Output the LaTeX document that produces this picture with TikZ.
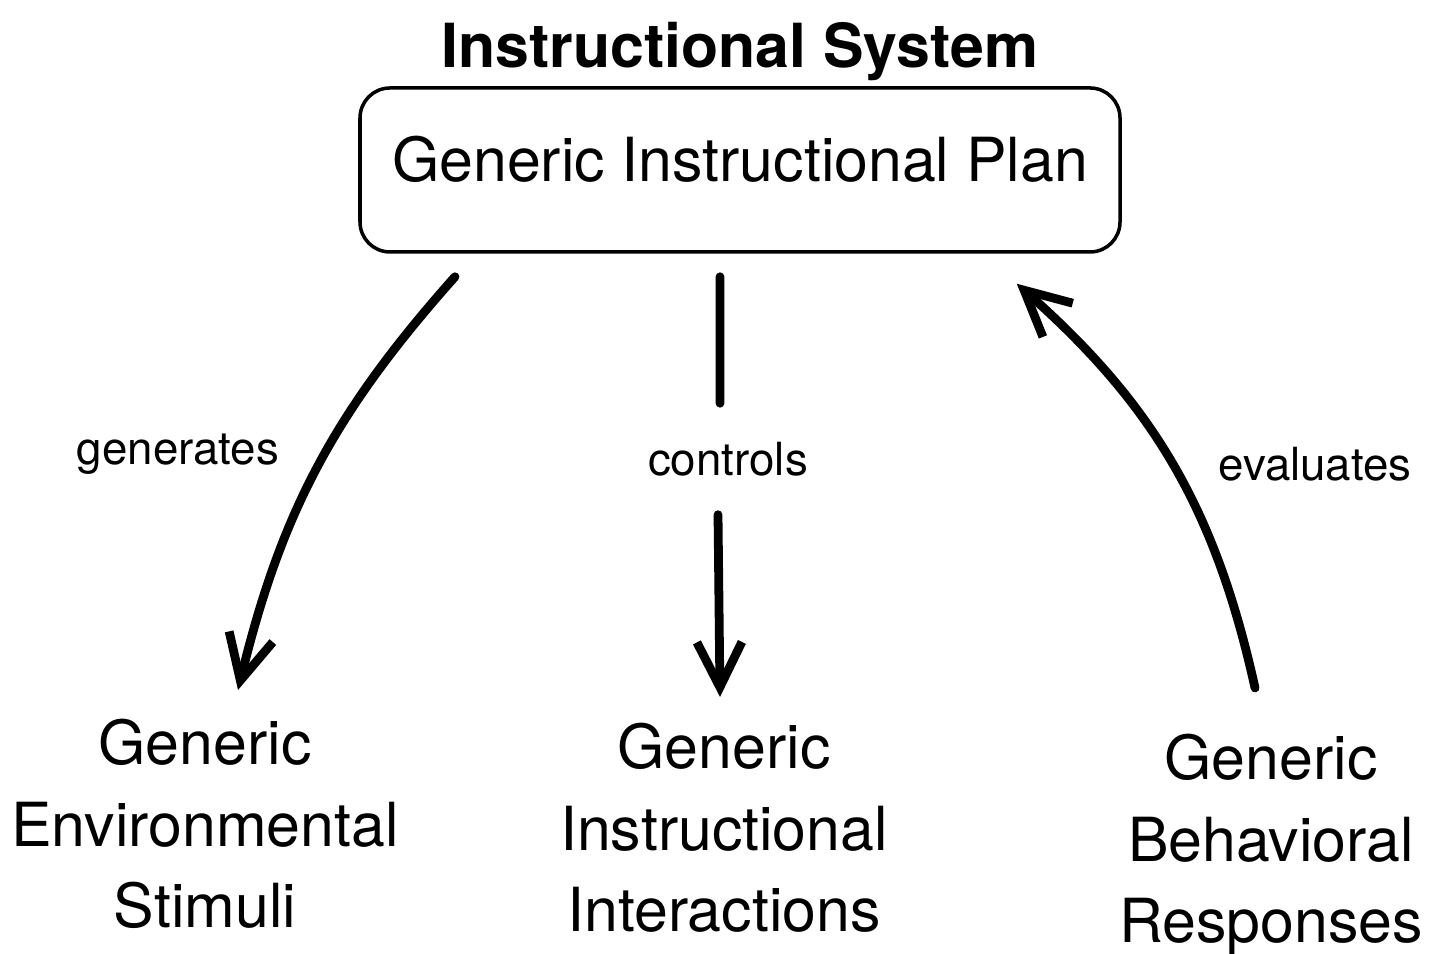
\documentclass[tikz,border=0pt]{standalone}
\usepackage{fontspec}
\setmainfont{TeX Gyre Heros}
\usetikzlibrary{arrows.meta,positioning}
\tikzset{
    planbox/.style={draw,line width=1pt,rounded corners=3mm,minimum width=7.6cm,inner ysep=0pt,text height=0.94cm,text depth=0.70cm,font=\fontsize{17.3}{20}\selectfont},
    heading/.style={inner sep=0pt,font=\bfseries\fontsize{17.3}{20}\selectfont},
    leaf/.style={align=center,inner sep=0pt,anchor=north,font=\fontsize{17.3}{23.3}\selectfont},
    verb/.style={inner sep=0pt,font=\fontsize{13}{15}\selectfont},
    link/.style={line width=2.5pt,line cap=round},
    flow/.style={link,-{Straight Barb[length=4.5mm,width=4.5mm]}}
}

\begin{document}
\begin{tikzpicture}
    \useasboundingbox (0,0) rectangle (14.3,9.54);

    \node[planbox] (plan) at (7.40,7.84) {Generic Instructional Plan};
    \node[heading] (title) [above=0.5mm of plan] {Instructional System};

    \node[leaf] (env)   at (2.05,2.36)  {Generic\\Environmental\\Stimuli};
    \node[leaf] (instr) at (7.24,2.32)  {Generic\\Instructional\\Interactions};
    \node[leaf] (resp)  at (12.71,2.21) {Generic\\Behavioral\\Responses};

    \node[verb] (gen)  at (1.78,5.00)  {generates};
    \node[verb,minimum height=1.1cm] (ctrl) at (7.28,4.95) {controls};
    \node[verb] (eval) at (13.15,4.90) {evaluates};

    % plan -> stimuli
    \draw[flow] ([xshift=-2.85cm,yshift=-2.3mm]plan.south) to[bend right=14] ([xshift=3.3mm,yshift=2.8mm]env.north);
    % plan -> interactions, broken by the label
    \draw[link] ([xshift=-2mm,yshift=-2.3mm]plan.south) -- ([xshift=-0.8mm]ctrl.north);
    \draw[flow] ([xshift=-1mm]ctrl.south) -- ([xshift=-0.4mm,yshift=2.5mm]instr.north);
    % responses -> plan
    \draw[flow] ([xshift=-1.6mm,yshift=4.5mm]resp.north) to[bend right=18] ([xshift=-10.5mm,yshift=-3mm]plan.south east);
\end{tikzpicture}
\end{document}
